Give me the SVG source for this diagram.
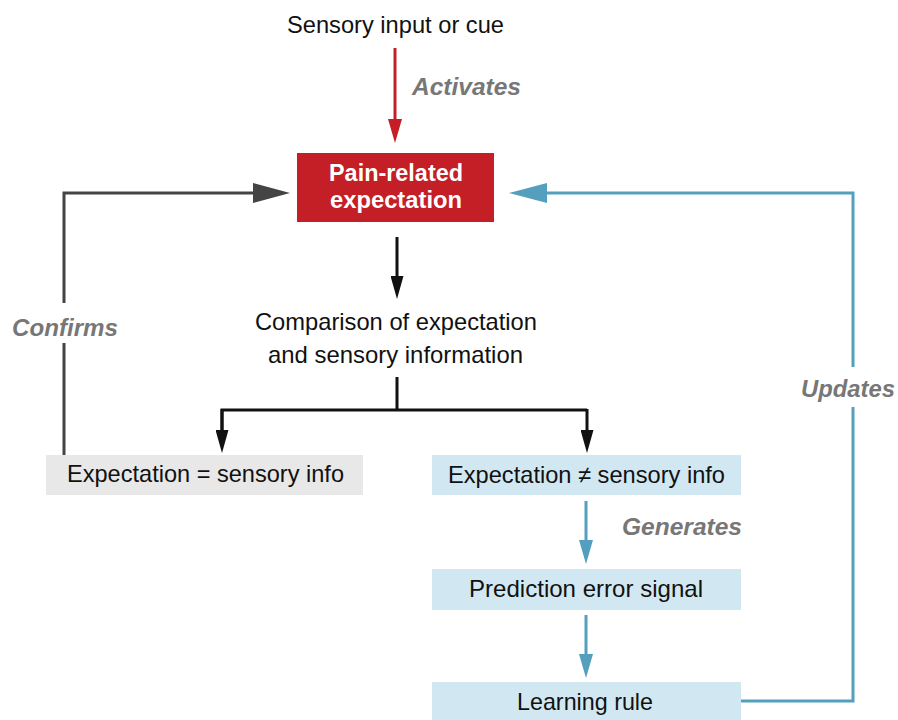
<svg xmlns="http://www.w3.org/2000/svg" width="898" height="720" viewBox="0 0 898 720">
<style>
  text { font-family: "Liberation Sans", Arial, sans-serif; font-size: 24px; fill: #111; }
  .lbl { font-weight: bold; font-style: italic; fill: #777; }
  .white { font-weight: bold; fill: #fff; }
  .ln { fill: none; stroke-width: 3; stroke-linejoin: miter; stroke-linecap: butt; }
  .red { stroke: #c41e26; }
  .blk { stroke: #111; }
  .gry { stroke: #444; }
  .blu { stroke: #539fbd; }
</style>
<defs>
  <marker id="aRed" markerUnits="userSpaceOnUse" markerWidth="24" markerHeight="14" refX="0" refY="7" orient="auto"><path d="M0,0 L24,7 L0,14 z" fill="#c41e26"/></marker>
  <marker id="aBlk" markerUnits="userSpaceOnUse" markerWidth="23" markerHeight="13" refX="0" refY="6.5" orient="auto"><path d="M0,0 L23,6.5 L0,13 z" fill="#111"/></marker>
  <marker id="aBlu" markerUnits="userSpaceOnUse" markerWidth="24" markerHeight="14" refX="0" refY="7" orient="auto"><path d="M0,0 L24,7 L0,14 z" fill="#539fbd"/></marker>
  <marker id="aGryL" markerUnits="userSpaceOnUse" markerWidth="37" markerHeight="20" refX="0" refY="10" orient="auto"><path d="M0,0 L37,10 L0,20 z" fill="#444"/></marker>
  <marker id="aBluL" markerUnits="userSpaceOnUse" markerWidth="38" markerHeight="20" refX="0" refY="10" orient="auto"><path d="M0,0 L38,10 L0,20 z" fill="#539fbd"/></marker>
</defs>
<rect width="898" height="720" fill="#fff"/>

<g id="connectors">
  <path class="ln red" d="M395,48 V119" marker-end="url(#aRed)"/>
  <path class="ln blk" d="M397,237 V276" marker-end="url(#aBlk)"/>
  <path class="ln blk" d="M397,377 V410"/>
  <path class="ln blk" d="M222,430 V410 H587"/>
  <path class="ln blk" d="M222,409 V430" marker-end="url(#aBlk)"/>
  <path class="ln blk" d="M587,409 V430" marker-end="url(#aBlk)"/>
  <path class="ln gry" d="M64,455 V343"/>
  <path class="ln gry" d="M64,303 V193 H253" marker-end="url(#aGryL)"/>
  <path class="ln blu" d="M741,701 H853 V407"/>
  <path class="ln blu" d="M853,367 V193 H547" marker-end="url(#aBluL)"/>
  <path class="ln blu" d="M586,501 V540" marker-end="url(#aBlu)"/>
  <path class="ln blu" d="M586,615 V654" marker-end="url(#aBlu)"/>
  <text class="lbl" x="412" y="95" textLength="109" lengthAdjust="spacingAndGlyphs">Activates</text>
  <text class="lbl" x="12" y="336" textLength="106" lengthAdjust="spacingAndGlyphs">Confirms</text>
  <text class="lbl" x="622" y="535" textLength="120" lengthAdjust="spacingAndGlyphs">Generates</text>
  <text class="lbl" x="801" y="397" textLength="94" lengthAdjust="spacingAndGlyphs">Updates</text>
</g>

<g id="sensory-input">
  <text x="287" y="33" textLength="217" lengthAdjust="spacingAndGlyphs">Sensory input or cue</text>
</g>

<g id="pain-expectation">
  <rect x="297" y="153" width="197" height="69" fill="#c41e26"/>
  <text class="white" x="329" y="181" textLength="134" lengthAdjust="spacingAndGlyphs">Pain-related</text>
  <text class="white" x="330" y="208" textLength="132" lengthAdjust="spacingAndGlyphs">expectation</text>
</g>

<g id="comparison">
  <text x="255" y="330" textLength="282" lengthAdjust="spacingAndGlyphs">Comparison of expectation</text>
  <text x="268" y="363" textLength="255" lengthAdjust="spacingAndGlyphs">and sensory information</text>
</g>

<g id="match">
  <rect x="46" y="455" width="317" height="40" fill="#e8e8e8"/>
  <text x="67" y="482" textLength="277" lengthAdjust="spacingAndGlyphs">Expectation = sensory info</text>
</g>

<g id="mismatch">
  <rect x="432" y="455" width="309" height="40" fill="#d1e8f3"/>
  <text x="448" y="483" textLength="277" lengthAdjust="spacingAndGlyphs">Expectation ≠ sensory info</text>
</g>

<g id="prediction-error">
  <rect x="432" y="569" width="309" height="41" fill="#d1e8f3"/>
  <text x="469" y="597" textLength="234" lengthAdjust="spacingAndGlyphs">Prediction error signal</text>
</g>

<g id="learning-rule">
  <rect x="432" y="682" width="309" height="38" fill="#d1e8f3"/>
  <text x="517" y="710" textLength="136" lengthAdjust="spacingAndGlyphs">Learning rule</text>
</g>
</svg>
